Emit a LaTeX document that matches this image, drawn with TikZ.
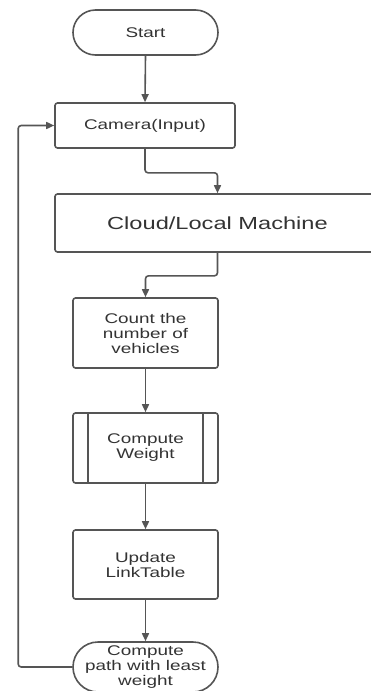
\documentclass[tikz,border=0pt]{standalone}
\usepackage{fontspec}
\setmainfont{Liberation Sans}[FakeStretch=1.35]
\usetikzlibrary{arrows.meta,shapes.misc,calc}
\definecolor{linegray}{HTML}{555555}
\definecolor{textgray}{HTML}{333333}
\tikzset{
  box/.style={draw=linegray, line width=1.6pt, rounded corners=2.5pt, fill=white,
    text=textgray, align=center, inner sep=0pt, font=\fontsize{14}{15}\selectfont},
  term/.style={box, rounded rectangle, rounded corners=0pt},
  conn/.style={draw=linegray, line width=1.6pt, rounded corners=3pt,
    -{Triangle[length=8pt,width=7pt]}}
}
\begin{document}
\begin{tikzpicture}[x=1pt,y=1pt]
\useasboundingbox (0,0) rectangle (371,-691);
\node[term, minimum width=145, minimum height=45] (start) at (145.5,-32.5) {Start};
\node[box, minimum width=180, minimum height=45] (cam) at (145,-125.5) {Camera(Input)};
\node[box, minimum width=325, minimum height=58, font=\fontsize{17.5}{19}\selectfont] (cloud) at (217.5,-223) {Cloud/Local Machine};
\node[box, minimum width=145, minimum height=70] (count) at (145.5,-333) {Count the\\number of\\vehicles};
\node[box, minimum width=145, minimum height=70] (weight) at (145.5,-448) {Compute\\Weight};
\draw[linegray, line width=1.6pt] ([xshift=16]weight.north west) -- ([xshift=16]weight.south west);
\draw[linegray, line width=1.6pt] ([xshift=-16]weight.north east) -- ([xshift=-16]weight.south east);
\node[box, minimum width=145, minimum height=69] (update) at (145.5,-564.5) {Update\\LinkTable};
\node[term, minimum width=145, minimum height=50] (path) at (145.5,-667) {Compute\\path with least\\weight};
\draw[conn] (start.south) -- (cam.north);
\draw[conn] (cam.south) -- ([yshift=-24]cam.south) -| (cloud.north);
\draw[conn] (cloud.south) -- ([yshift=-23]cloud.south) -| (count.north);
\draw[conn] (count.south) -- (weight.north);
\draw[conn] (weight.south) -- (update.north);
\draw[conn] (update.south) -- (path.north);
\draw[conn] (path.west) -- ++(-54,0) |- (cam.west);
\end{tikzpicture}
\end{document}
